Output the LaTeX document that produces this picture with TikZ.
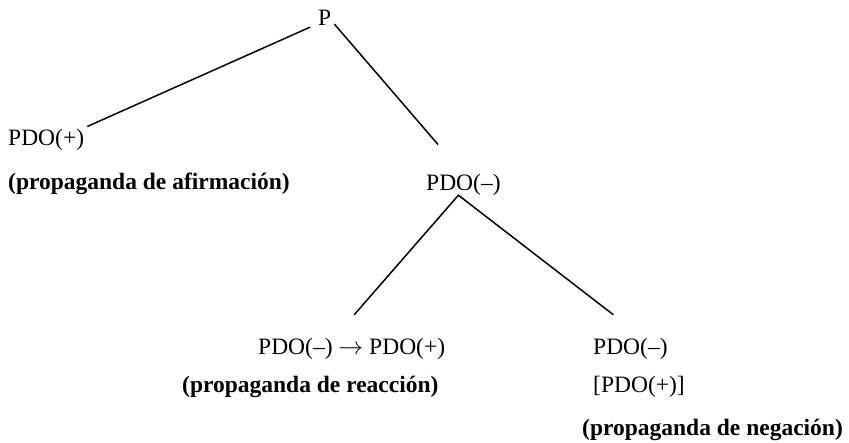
\documentclass[tikz,border=0pt]{standalone}
\usepackage{fontspec}
\setmainfont{Liberation Serif}
\usepackage{tikz}

\begin{document}
\begin{tikzpicture}[x=1pt,y=-1pt]
                \tikzstyle{lbl}=[anchor=base west, inner sep=3pt, font=\fontsize{23.5}{28}\selectfont]
                \tikzstyle{bld}=[lbl, font=\fontsize{23.5}{28}\selectfont\bfseries]
                \tikzstyle{branch}=[line width=1.5pt]

                \useasboundingbox (0,0) rectangle (849,443);

                \node[lbl] (p)    at (315,26)  {P};
                \node[lbl] (pdop) at (5,146)   {PDO(+)};
                \node[bld] (afir) at (5,190)   {(propaganda de afirmación)};
                \node[lbl] (pdom) at (423,191) {PDO(–)};

                \node[lbl] (reac)    at (255,355) {PDO(–) $\rightarrow$ PDO(+)};
                \node[bld] (reaclbl) at (179,393) {(propaganda de reacción)};

                \node[lbl] (neg)    at (590,355) {PDO(–)};
                \node[lbl] (negp)   at (590,393) {[PDO(+)]};
                \node[bld] (neglbl) at (579,436) {(propaganda de negación)};

                \draw[branch] ([xshift=-5pt,yshift=2pt]p.south west) -- (pdop.north east);
                \draw[branch] ([yshift=5pt]p.south east) -- ([xshift=15pt,yshift=27pt]pdom.north west);

                \draw[branch] ([xshift=2.5pt,yshift=20.7pt]reac.north) -- ([xshift=-5pt,yshift=4pt]pdom.south)
                              -- ([xshift=-17pt,yshift=20.7pt]neg.north);
            \end{tikzpicture}
\end{document}
